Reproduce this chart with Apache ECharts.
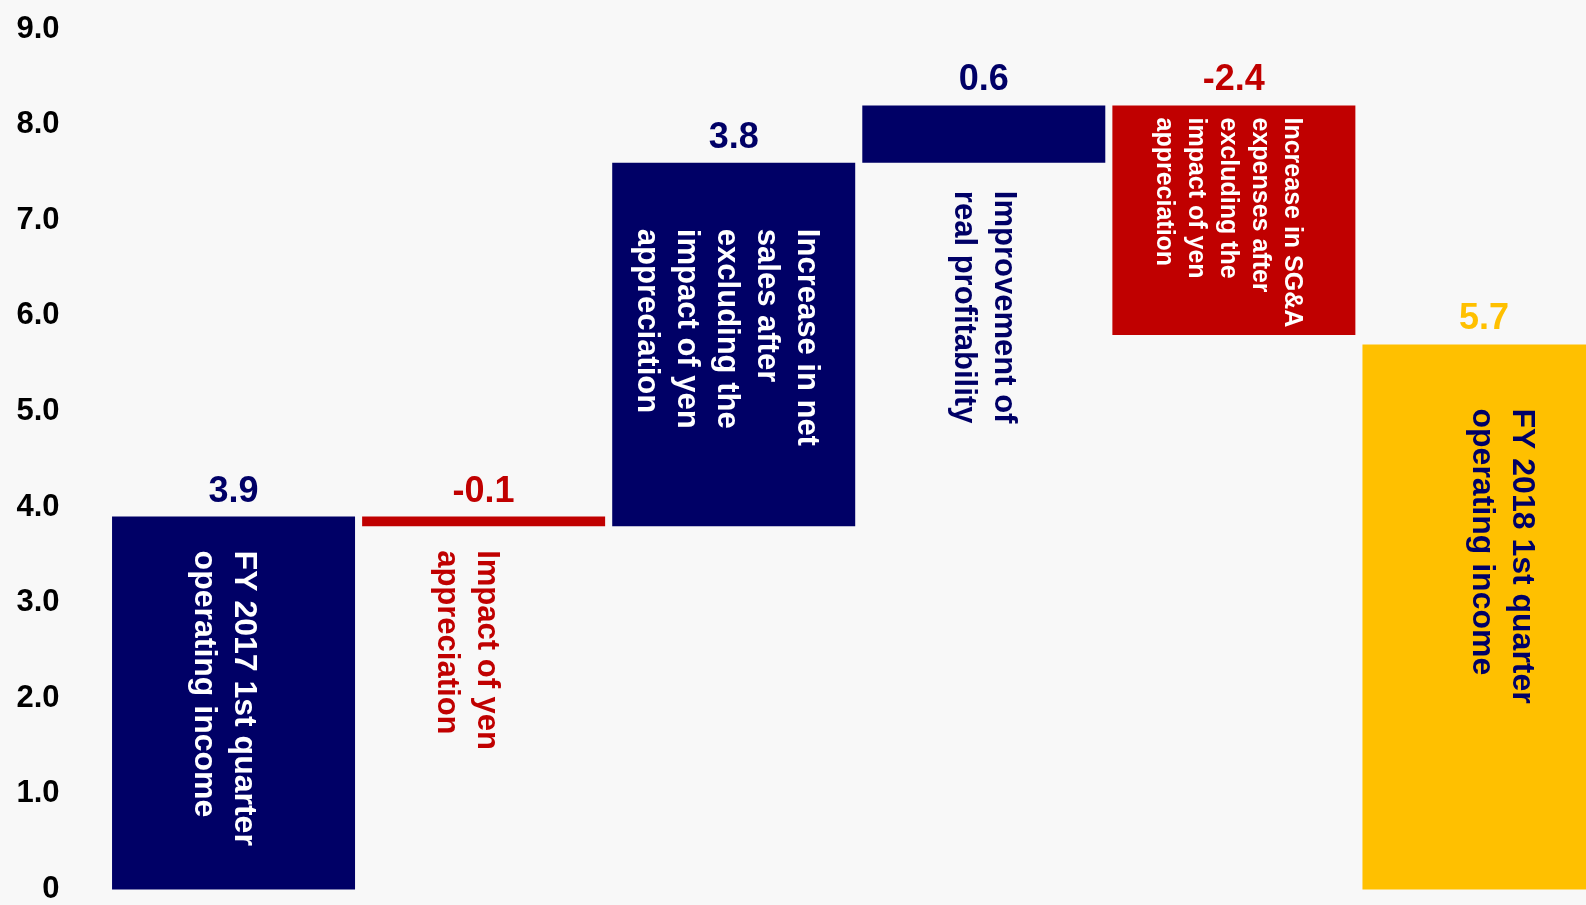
<!DOCTYPE html>
<html>
<head>
<meta charset="utf-8">
<script src="https://cdn.jsdelivr.net/npm/echarts@6/dist/echarts.min.js"></script>
<style>
  html, body { margin: 0; padding: 0; background: #f8f8f8; overflow: hidden; }
  /* 最後のバーは右端で切れているので、少し広く描いてはみ出させる */
  #chart { width: 1609px; height: 905px; }
</style>
</head>
<body>
<div id="chart"></div>
<script>
// 営業利益の増減（ウォーターフォール）
const categories = [
  'FY 2017 1st quarter\noperating income',
  'Impact of yen\nappreciation',
  'Increase in net\nsales after\nexcluding the\nimpact of yen\nappreciation',
  'Improvement of\nreal profitability',
  'Increase in SG&A\nexpenses after\nexcluding the\nimpact of yen\nappreciation',
  'FY 2018 1st quarter\noperating income'
]
const values = [3.9, -0.1, 3.8, 0.6, -2.4, 5.7]
const isTotal = [true, false, false, false, false, true]
const yTicks = [0, 1, 2, 3, 4, 5, 6, 7, 8, 9]

const NAVY = '#000066'
const RED = '#c00000'
const GOLD = '#ffc000'

// 各バーの見た目（色・ラベル位置）
const barColor = [NAVY, RED, NAVY, NAVY, RED, GOLD]
const textColor = ['#fff', RED, '#fff', NAVY, '#fff', NAVY]
const textPos = ['insideTop', 'bottom', 'insideTop', 'bottom', 'insideTop', 'insideTop']
const textDist = [34, 24, 66, 28, 12, 64]
const textSize = [32, 31, 31, 31, 25, 32]
const textShift = [-10, -17, -7, 0, -6, 18]
const valueColor = [NAVY, RED, NAVY, NAVY, RED, GOLD]

// 土台と高さを計算
const base = []
const height = []
const tops = []
let running = 0
values.forEach((v, i) => {
  if (isTotal[i]) {
    base.push(0)
    height.push(v)
    running = v
  } else {
    base.push(Math.min(running, running + v))
    height.push(Math.abs(v))
    running = running + v
  }
  tops.push(base[i] + height[i])
})

const chart = echarts.init(document.getElementById('chart'))
const option = {
  backgroundColor: '#f8f8f8',
  animation: false,
  textStyle: { fontFamily: 'Liberation Sans, Arial, sans-serif' },
  grid: { left: 108.5, right: 0, top: 29, bottom: 8, containLabel: false },
  xAxis: {
    type: 'category',
    data: categories,
    axisLine: { show: false },
    axisTick: { show: false },
    axisLabel: { show: false },
    splitLine: { show: false }
  },
  yAxis: {
    type: 'value',
    min: yTicks[0],
    max: yTicks[yTicks.length - 1],
    interval: 1,
    axisLine: { show: false },
    axisTick: { show: false },
    splitLine: { show: false },
    axisLabel: {
      color: '#000',
      fontSize: 31,
      fontWeight: 'bold',
      margin: 49,
      formatter: v => (v === 0 ? '0' : v.toFixed(1))
    }
  },
  series: [
    {
      name: 'base',
      type: 'bar',
      stack: 'wf',
      barWidth: 243,
      silent: true,
      itemStyle: { color: 'transparent' },
      data: base
    },
    {
      name: 'change',
      type: 'bar',
      stack: 'wf',
      barWidth: 243,
      data: height.map((h, i) => ({
        value: h,
        itemStyle: { color: barColor[i] },
        label: {
          show: true,
          position: textPos[i],
          distance: textDist[i],
          rotate: -90,
          align: 'left',
          verticalAlign: 'middle',
          offset: [0, -textShift[i]],
          color: textColor[i],
          fontSize: textSize[i],
          lineHeight: textSize[i] < 30 ? 32 : 40,
          fontWeight: 'bold',
          formatter: () => categories[i]
        }
      }))
    },
    {
      name: 'value',
      type: 'scatter',
      symbolSize: 0,
      silent: true,
      itemStyle: { opacity: 1 },
      data: tops.map((t, i) => ({
        value: [i, t],
        itemStyle: { color: valueColor[i], opacity: 1 },
        label: {
          show: true,
          position: 'top',
          distance: 7,
          color: valueColor[i],
          fontSize: 36,
          fontWeight: 'bold',
          formatter: () => values[i].toFixed(1)
        }
      }))
    }
  ]
}
option && chart.setOption(option)
</script>
</body>
</html>
